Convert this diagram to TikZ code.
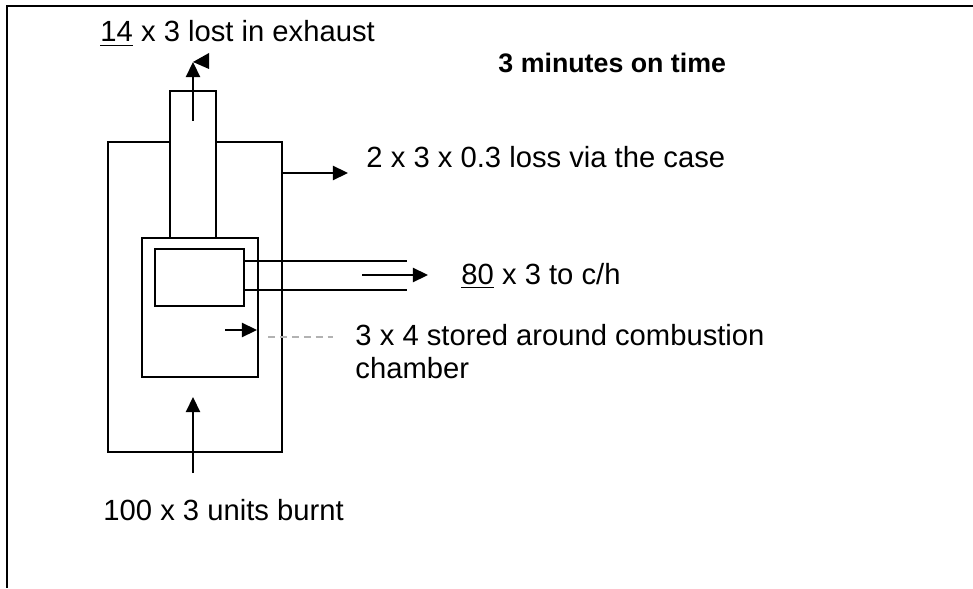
\documentclass[tikz,border=0pt]{standalone}
\usepackage{fontspec}
\setmainfont{Liberation Sans}
\usetikzlibrary{arrows.meta}

\begin{document}
\begin{tikzpicture}[x=0.411pt,y=-0.411pt,
                  wall/.style={line width=0.75pt},
                  frame/.style={line width=1pt},
                  lbl/.style={anchor=base west,inner sep=0pt,align=left,font=\fontsize{12}{13.3}\selectfont},
                  arr/.style={-{Triangle[length=6.2pt,width=5.8pt]},line width=0.85pt},
                  lead/.style={gray!60,line width=0.5pt,dash pattern=on 2.9pt off 2pt}
                ]
                \useasboundingbox (0,0) rectangle (973,588);
                \draw[frame] (973,6) -| (7,588);

                % boiler case, flue, combustion chamber, heat exchanger
                \draw[wall] (170,142) -- (108,142) -- (108,452) -- (282,452) -- (282,142) -- (216,142);
                \draw[wall] (170,238) -- (170,91) -- (216,91) -- (216,238);
                \draw[wall] (142,238) rectangle (258,377);
                \draw[wall] (155,249) rectangle (244,306);
                \draw[wall] (244,261) -- (407,261);
                \draw[wall] (244,290) -- (407,290);

                \node[lbl] (exhaust) at (100,42) {\underline{14} x 3 lost in exhaust};
                \node[lbl,font=\fontsize{11}{13}\selectfont\bfseries] (title) at (498,73) {3 minutes on time};
                \node[lbl] (caseloss) at (366,168) {2 x 3 x 0.3 loss via the case};
                \node[lbl] (toch) at (461,284) {\underline{80} x 3 to c/h};
                \node[lbl] (stored) at (355,378) {3 x 4 stored around combustion\\chamber};
                \node[lbl] (burnt) at (103,520) {100 x 3 units burnt};

                \coordinate (fluein) at (193,121);
                \coordinate (flueout) at (193,62);
                \coordinate (casewall) at (282,173);
                \coordinate (caseout) at (348,173);
                \coordinate (pipein) at (362,275);
                \coordinate (pipeout) at (428,275);
                \coordinate (storein) at (225,330);
                \coordinate (storeout) at (257,330);
                \coordinate (fuelin) at (193,473);
                \coordinate (fuelout) at (193,397);
                \coordinate (leadA) at (268,337);
                \coordinate (leadB) at (333,337);

                \draw[arr] (fluein) -- (flueout);
                \fill (flueout) -- ++(16,-9) -- ++(0,16) -- cycle;
                \draw[arr] (casewall) -- (caseout);
                \draw[arr] (pipein) -- (pipeout);
                \draw[arr] (storein) -- (storeout);
                \draw[arr] (fuelin) -- (fuelout);
                \draw[lead] (leadA) -- (leadB);
                \end{tikzpicture}
\end{document}
